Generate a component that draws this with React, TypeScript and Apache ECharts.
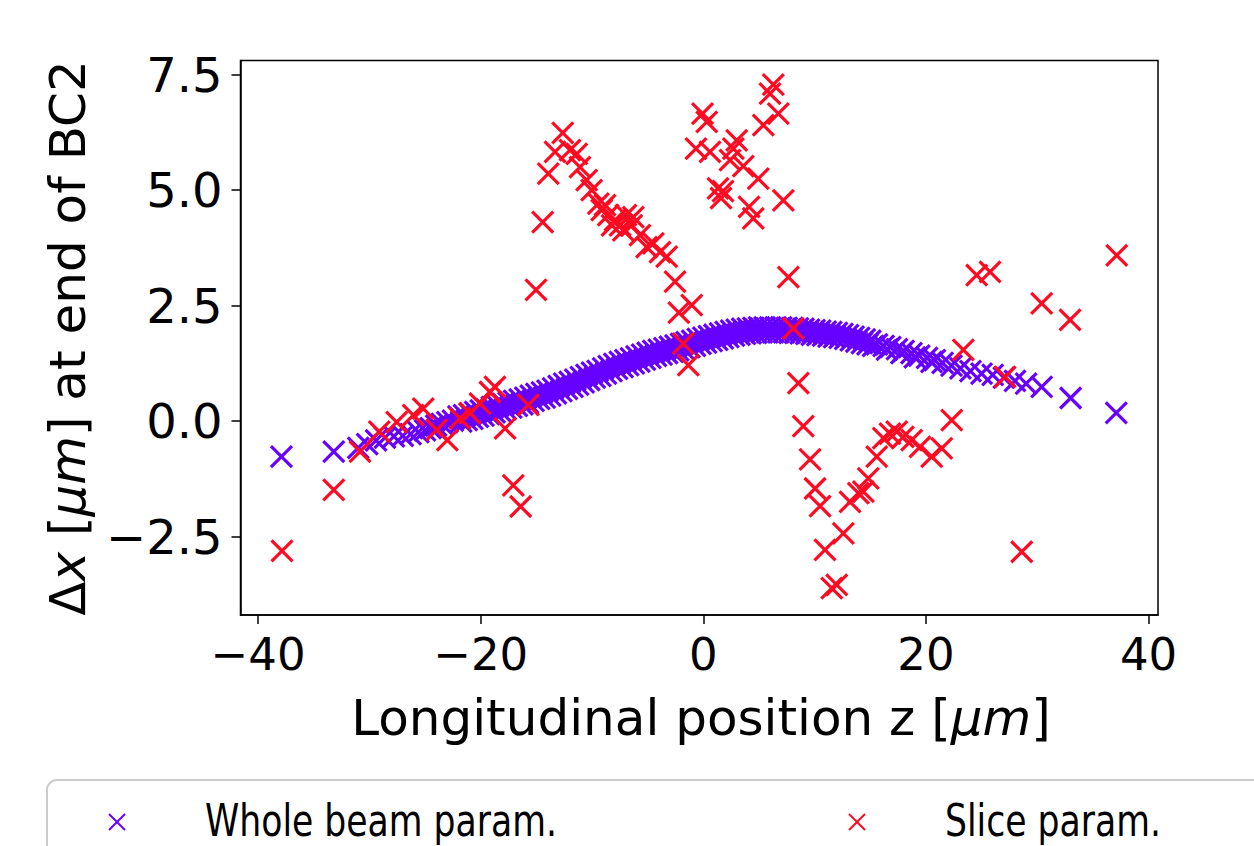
import React, { useEffect, useRef } from 'react';
import * as echarts from 'echarts';

const xTicks = [-40, -20, 0, 20, 40];
const yTicks = [-2.5, 0, 2.5, 5, 7.5];
const seriesNames = ['Whole beam param.', 'Slice param.'];

const wholeBeam: [number, number][] = [
  [-37.9, -0.77], [-33.2, -0.66], [-31, -0.58], [-30.2, -0.5], [-29.4, -0.42], [-28.6, -0.36],
  [-27.8, -0.33], [-27, -0.32], [-26.3, -0.28], [-25.6, -0.24], [-25, -0.2], [-24.5, -0.15],
  [-24, -0.1], [-23.5, -0.06], [-23, -0.02], [-22.5, 0.01],
  [-22, 0.10], [-21.75, -0.01], [-21.5, 0.13], [-21.25, 0.02], [-21, 0.16], [-20.75, 0.05],
  [-20.5, 0.20], [-20.25, 0.09], [-20, 0.23], [-19.75, 0.12], [-19.5, 0.26], [-19.25, 0.15],
  [-19, 0.30], [-18.75, 0.19], [-18.5, 0.33], [-18.25, 0.22], [-18, 0.37], [-17.75, 0.26],
  [-17.5, 0.40], [-17.25, 0.29], [-17, 0.44], [-16.75, 0.33], [-16.5, 0.47], [-16.25, 0.36],
  [-16, 0.51], [-15.75, 0.40], [-15.5, 0.55], [-15.25, 0.44], [-15, 0.59], [-14.75, 0.48],
  [-14.5, 0.62], [-14.25, 0.51], [-14, 0.66], [-13.75, 0.55], [-13.5, 0.71], [-13.25, 0.60],
  [-13, 0.76], [-12.75, 0.65], [-12.5, 0.81], [-12.25, 0.70], [-12, 0.85], [-11.75, 0.74],
  [-11.5, 0.90], [-11.25, 0.79], [-11, 0.95], [-10.75, 0.84], [-10.5, 1.00], [-10.25, 0.89],
  [-10, 1.05], [-9.75, 0.94], [-9.5, 1.09], [-9.25, 0.98], [-9, 1.14], [-8.75, 1.03],
  [-8.5, 1.19], [-8.25, 1.08], [-8, 1.24], [-7.75, 1.13], [-7.5, 1.28], [-7.25, 1.17],
  [-7, 1.32], [-6.75, 1.21], [-6.5, 1.36], [-6.25, 1.25], [-6, 1.40], [-5.75, 1.29],
  [-5.5, 1.44], [-5.25, 1.33], [-5, 1.48], [-4.75, 1.37], [-4.5, 1.52], [-4.25, 1.41],
  [-4, 1.55], [-3.75, 1.44], [-3.5, 1.58], [-3.25, 1.47], [-3, 1.61], [-2.75, 1.50],
  [-2.5, 1.64], [-2.25, 1.53], [-2, 1.67], [-1.75, 1.56], [-1.5, 1.71], [-1.25, 1.60],
  [-1, 1.74], [-0.75, 1.63], [-0.5, 1.78], [-0.25, 1.67], [0, 1.81], [0.25, 1.70],
  [0.5, 1.84], [0.75, 1.73], [1, 1.87], [1.25, 1.76], [1.5, 1.90], [1.75, 1.79],
  [2, 1.93], [2.25, 1.82], [2.5, 1.96], [2.75, 1.85], [3, 1.98], [3.25, 1.87],
  [3.5, 2.00], [3.75, 1.89], [4, 2.01], [4.25, 1.90], [4.5, 2.02], [4.75, 1.91],
  [5, 2.03], [5.25, 1.92], [5.5, 2.03], [5.75, 1.92], [6, 2.03], [6.25, 1.92],
  [6.5, 2.03], [6.75, 1.92], [7, 2.03], [7.25, 1.92], [7.5, 2.02], [7.75, 1.91],
  [8, 2.02], [8.25, 1.91], [8.5, 2.01], [8.75, 1.90], [9, 2.00], [9.25, 1.89],
  [9.5, 1.98], [9.75, 1.87], [10, 1.97], [10.25, 1.86], [10.5, 1.96], [10.75, 1.85],
  [11, 1.94], [11.25, 1.83], [11.5, 1.93], [11.75, 1.82], [12, 1.91], [12.25, 1.80],
  [12.5, 1.89], [12.75, 1.78], [13, 1.86], [13.25, 1.75], [13.5, 1.83], [13.75, 1.72],
  [14, 1.80], [14.25, 1.69], [14.5, 1.77], [14.75, 1.66], [15, 1.74], [15.25, 1.63],
  [15.6, 1.66], [16.2, 1.63], [16.5, 1.55], [16.8, 1.60], [17.4, 1.56], [17.8, 1.47],
  [18, 1.52], [18.7, 1.47], [19, 1.38], [19.4, 1.42], [20.1, 1.37], [20.5, 1.28],
  [20.8, 1.32], [21.5, 1.26], [22.3, 1.20], [23.1, 1.14], [24, 1.08], [25, 1.03],
  [26, 1.0], [27, 0.94], [28, 0.87], [29, 0.81], [30.4, 0.74], [33, 0.5], [37.1, 0.18],
];

const sliceParam: [number, number][] = [
  [-37.85, -2.81], [-33.2, -1.49], [-30.84, -0.66], [-29.11, -0.23], [-27.55, -0.02],
  [-26.06, 0.13], [-25.16, 0.27], [-23.95, -0.19], [-23.0, -0.41], [-21.86, 0.06],
  [-20.96, 0.17], [-20.06, 0.38], [-19.17, 0.63], [-18.72, 0.74], [-17.81, -0.16],
  [-17.07, -1.39], [-16.41, -1.85], [-15.72, 0.35], [-15.03, 2.84], [-14.43, 4.31],
  [-13.93, 5.36], [-13.32, 5.83], [-12.63, 6.24], [-11.98, 5.87], [-11.37, 5.79],
  [-11.08, 5.50], [-10.48, 5.22], [-10.03, 5.0], [-9.43, 4.71], [-9.13, 4.57],
  [-8.83, 4.68], [-8.54, 4.46], [-8.2, 4.24], [-7.93, 4.35], [-7.48, 4.24],
  [-7.19, 4.13], [-6.95, 4.46], [-6.43, 4.24], [-6.29, 4.42], [-5.69, 4.03],
  [-5.09, 3.77], [-4.49, 3.85], [-3.89, 3.66], [-3.29, 3.56], [-2.54, 3.02],
  [-2.2, 2.35], [-1.04, 2.51], [-1.8, 1.68], [-1.35, 1.21], [-0.07, 6.66],
  [0.31, 6.48], [-0.66, 5.90], [0.60, 5.83], [1.32, 5.04], [1.77, 4.98],
  [1.59, 4.83], [2.4, 5.65], [2.7, 5.90], [3.0, 6.08], [3.59, 5.52],
  [4.11, 4.64], [4.49, 4.39], [4.94, 5.25], [5.39, 6.41], [5.99, 7.09],
  [6.29, 7.29], [6.74, 6.66], [7.19, 4.78], [7.64, 3.12], [8.09, 2.01],
  [8.54, 0.82], [8.98, -0.11], [9.59, -0.83], [10.04, -1.46], [10.49, -1.84],
  [10.93, -2.79], [11.54, -3.62], [11.99, -3.55], [12.58, -2.43], [13.18, -1.75],
  [13.93, -1.56], [14.38, -1.53], [14.82, -1.24], [15.58, -0.77], [16.17, -0.37],
  [16.77, -0.27], [17.38, -0.23], [17.97, -0.34], [18.72, -0.41], [19.47, -0.56],
  [20.52, -0.77], [21.42, -0.59], [22.32, 0.02], [23.36, 1.54], [24.56, 3.16],
  [25.76, 3.23], [27.11, 0.96], [28.61, -2.83], [30.4, 2.55], [32.95, 2.19], [37.14, 3.59],
];

const PURPLE = '#6600ff';
const RED = '#ff0a22';
const FONT = 'DejaVu Sans';
const CROSS = 'path://M0,0L10,10M10,0L0,10';

const minusFmt = (v: number, digits: number) => v.toFixed(digits).replace('-', '\u2212');

// small "x" legend marker drawn as two short lines
const legendCross = (cx: number, cy: number, color: string) => ({
  type: 'group',
  children: [
    { type: 'line', shape: { x1: cx - 8, y1: cy - 8, x2: cx + 8, y2: cy + 8 }, style: { stroke: color, lineWidth: 2 } },
    { type: 'line', shape: { x1: cx - 8, y1: cy + 8, x2: cx + 8, y2: cy - 8 }, style: { stroke: color, lineWidth: 2 } },
  ],
});

export default function App() {
  const ref = useRef<HTMLDivElement>(null);
  useEffect(() => {
    if (!ref.current) return;
    const chart = echarts.init(ref.current, null, { renderer: 'svg' });
    const titleRich = {
      n: { fontSize: 50, fontFamily: FONT, fill: '#000' },
      i: { fontSize: 50, fontFamily: FONT, fontStyle: 'italic', fill: '#000' },
    };
    chart.setOption({
      animation: false,
      backgroundColor: '#ffffff',
      grid: {
        left: 240.5, right: 96, top: 60.5, bottom: 231,
        show: true, borderColor: '#000', borderWidth: 1.5, backgroundColor: 'transparent',
      },
      xAxis: {
        type: 'value', min: -41.58, max: 40.85,
        splitLine: { show: false },
        axisLine: { show: true, onZero: false, lineStyle: { color: '#000', width: 1.5 } },
        axisTick: { show: true, customValues: xTicks, length: 9, lineStyle: { color: '#000', width: 1.5 } },
        axisLabel: {
          customValues: xTicks, fontSize: 45, fontFamily: FONT, color: '#000', margin: 17,
          formatter: (v: number) => minusFmt(v, 0),
        },
      },
      yAxis: {
        type: 'value', min: -4.2, max: 7.81,
        splitLine: { show: false },
        axisLine: { show: true, onZero: false, lineStyle: { color: '#000', width: 1.5 } },
        axisTick: { show: true, customValues: yTicks, length: 9, lineStyle: { color: '#000', width: 1.5 } },
        axisLabel: {
          customValues: yTicks, fontSize: 48, fontFamily: FONT, color: '#000', margin: 18,
          formatter: (v: number) => minusFmt(v, 1),
        },
      },
      series: [
        {
          name: seriesNames[0], type: 'scatter', data: wholeBeam,
          symbol: CROSS, symbolSize: 21,
          itemStyle: { color: PURPLE, borderColor: PURPLE, borderWidth: 3.2, opacity: 1 },
          emphasis: { disabled: true },
        },
        {
          name: seriesNames[1], type: 'scatter', data: sliceParam,
          symbol: CROSS, symbolSize: 21,
          itemStyle: { color: RED, borderColor: RED, borderWidth: 3.2, opacity: 1 },
          emphasis: { disabled: true },
        },
      ],
      graphic: [
        {
          type: 'text', x: 701, y: 718,
          style: {
            text: '{n|Longitudinal position z [}{i|\u03bcm}{n|]}',
            align: 'center', verticalAlign: 'middle', rich: titleRich,
          },
        },
        {
          type: 'text', x: 68, y: 338, rotation: Math.PI / 2,
          style: {
            text: '{n|\u0394}{i|x}{n| [}{i|\u03bcm}{n|] at end of BC2}',
            align: 'center', verticalAlign: 'middle', rich: titleRich,
          },
        },
        {
          type: 'rect', shape: { x: 47, y: 780, width: 1300, height: 140, r: 10 },
          style: { fill: '#fff', stroke: '#cccccc', lineWidth: 2 },
        },
        legendCross(117, 822, PURPLE),
        {
          type: 'text', x: 205, y: 820, scaleX: 0.77, scaleY: 1,
          style: {
            text: seriesNames[0], fontSize: 45, lineHeight: 44, fontFamily: FONT, fill: '#000',
            align: 'left', verticalAlign: 'middle',
          },
        },
        legendCross(857, 822, RED),
        {
          type: 'text', x: 945, y: 820, scaleX: 0.77, scaleY: 1,
          style: {
            text: seriesNames[1], fontSize: 45, lineHeight: 44, fontFamily: FONT, fill: '#000',
            align: 'left', verticalAlign: 'middle',
          },
        },
      ],
    });
    return () => chart.dispose();
  }, []);
  return (
    <div
      ref={ref}
      style={{ position: 'fixed', left: 0, top: 0, width: 1254, height: 846, background: '#fff' }}
    />
  );
}
